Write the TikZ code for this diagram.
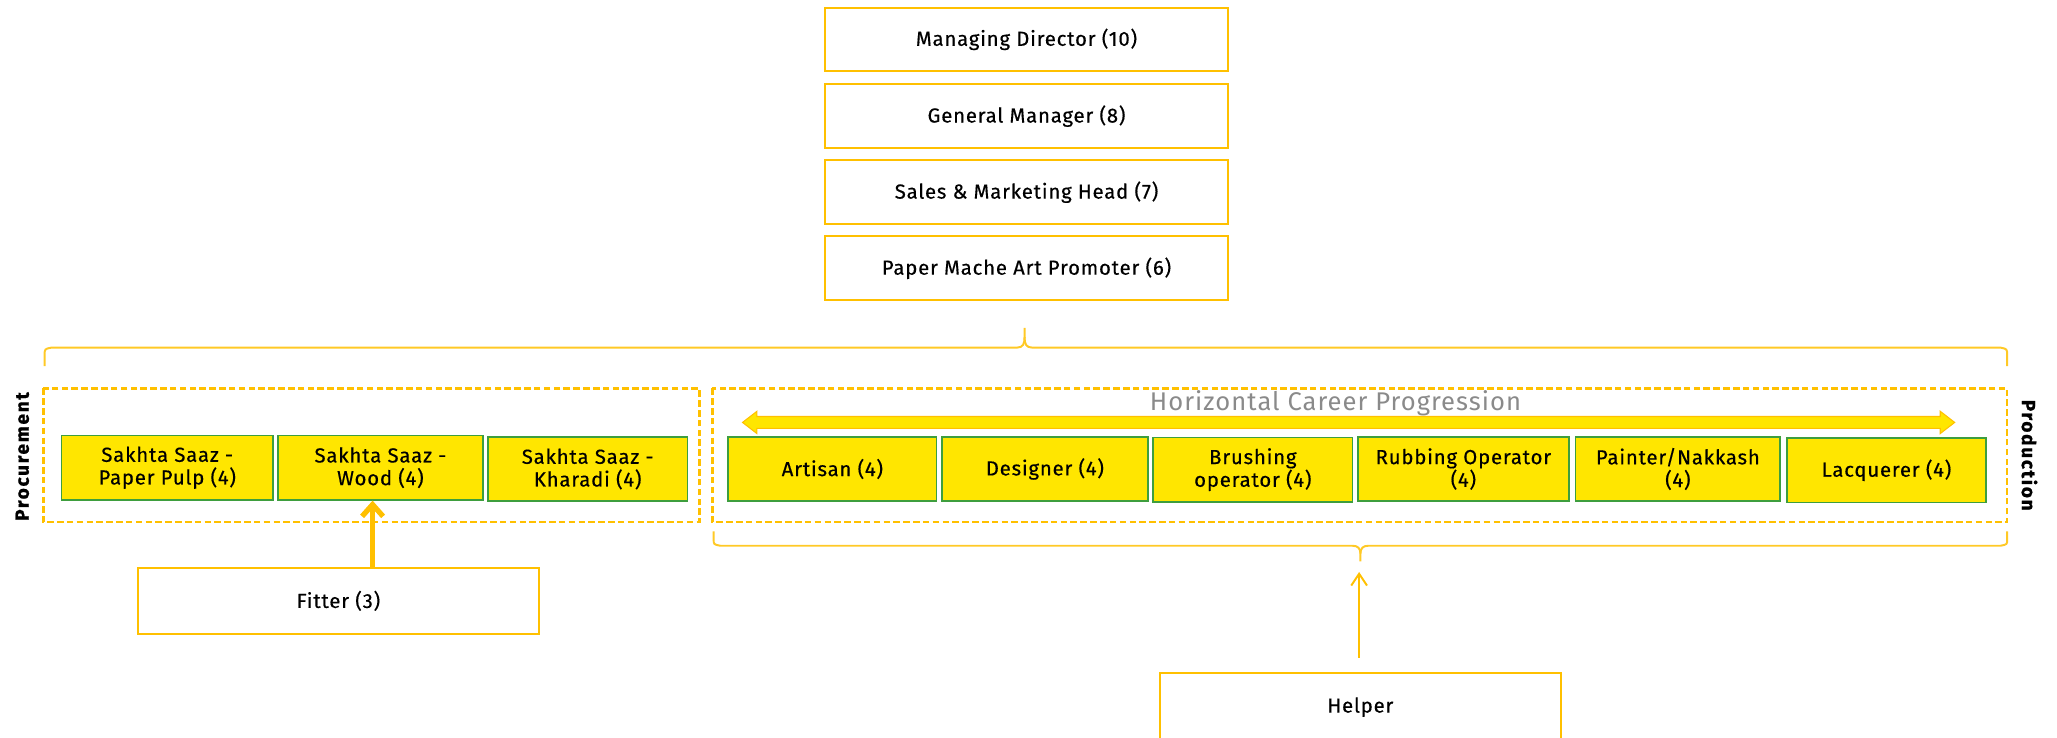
\documentclass[tikz,border=0pt]{standalone}
\usepackage{fontspec}
\setmainfont{Fira Sans}[LetterSpace=4, FakeBold=0.4]
\newfontfamily\sidefont{Fira Sans}[LetterSpace=9, FakeBold=1]
\newfontfamily\hcpfont{Fira Sans}[LetterSpace=4]
\usetikzlibrary{arrows.meta}
\definecolor{ora}{HTML}{FFC000}
\definecolor{yel}{HTML}{FFE600}
\definecolor{grn}{HTML}{3E9E3E}
\definecolor{gry}{HTML}{8A8A8A}
\tikzset{
  topbox/.style={draw=ora, line width=1.5pt, fill=white, minimum width=307pt, minimum height=48.5pt, inner sep=0pt, font=\fontsize{15.5}{17.3}\selectfont},
  ybox/.style={draw=grn, line width=1.2pt, fill=yel, minimum height=49pt, inner sep=0pt, align=center, font=\fontsize{15.5}{17.3}\selectfont},
  dbox/.style={draw=ora, line width=2pt, dash pattern=on 5pt off 2.5pt},
  bracepath/.style={draw=ora!85, line width=1.5pt, line join=round},
  side/.style={font=\fontsize{14.5}{16}\sidefont\bfseries, inner sep=0pt},
}
\begin{document}
\begin{tikzpicture}[x=1pt,y=-1pt]
\path[use as bounding box] (0,0) rectangle (1568,562);
\clip (0,0) rectangle (1568,562);
% top boxes
\node[topbox] (md) at (782.5,30) {Managing Director (10)};
\node[topbox] (gm) at (782.5,88.5) {General Manager (8)};
\node[topbox] (smh) at (782.5,146.5) {Sales \& Marketing Head (7)};
\node[topbox] (pmap) at (782.5,204.5) {Paper Mache Art Promoter (6)};
% top brace
\draw[bracepath] (34,279) -- (34,271) .. controls (34,266) .. (39,265) -- (775,265) .. controls (780,265) and (781,262) .. (781,257) -- (781,250);
\draw[bracepath] (781,257) .. controls (781,262) and (782,265) .. (787,265) -- (1525,265) .. controls (1530,266) .. (1530,271) -- (1530,279);
% dashed group boxes
\draw[dbox] (33,296) rectangle (533,398);
\draw[dbox] (543,296) rectangle (1530,398);
\node[side, rotate=90] (proc) at (17,348) {Procurement};
\node[side, rotate=-90] (prod) at (1547,347) {Production};
\node[font=\fontsize{19.5}{22}\hcpfont, text=gry, inner sep=0pt] (hcp) at (1018,307) {Horizontal Career Progression};
% double block arrow
\draw[draw=ora, line width=0.8pt, fill=yel, line join=miter] (566,322) -- (577,313.5) -- (577,317.5) -- (1479,317.5) -- (1479,313.5) -- (1490,322) -- (1479,330.5) -- (1479,326.5) -- (577,326.5) -- (577,330.5) -- cycle;
% yellow boxes
\node[ybox, minimum width=161pt] (pulp) at (127.5,356.5) {Sakhta Saaz -\\Paper Pulp (4)};
\node[ybox, minimum width=156pt] (wood) at (290,356.5) {Sakhta Saaz -\\Wood (4)};
\node[ybox, minimum width=152pt] (khar) at (448,357.5) {Sakhta Saaz -\\Kharadi (4)};
\node[ybox, minimum width=159pt] (art) at (634.5,357.5) {Artisan (4)};
\node[ybox, minimum width=157pt] (des) at (796.5,357.5) {Designer (4)};
\node[ybox, minimum width=152pt] (brush) at (955,358) {Brushing\\operator (4)};
\node[ybox, minimum width=161pt] (rub) at (1115.5,357.5) {Rubbing Operator\\(4)};
\node[ybox, minimum width=156pt] (paint) at (1279,357.5) {Painter/Nakkash\\(4)};
\node[ybox, minimum width=152pt] (lacq) at (1438,358.5) {Lacquerer (4)};
% bottom brace
\draw[bracepath] (544,405) -- (544,411) .. controls (544,415) .. (549,416) -- (1031,416) .. controls (1035,416) and (1037,418) .. (1037,422) -- (1037,428);
\draw[bracepath] (1037,422) .. controls (1037,418) and (1039,416) .. (1043,416) -- (1525,416) .. controls (1530,415) .. (1530,411) -- (1530,405);
\coordinate (btip) at (1036,436);
% bottom boxes
\node[topbox, minimum width=306pt, minimum height=50pt] (fitter) at (258,458) {Fitter (3)};
\node[topbox, minimum width=306pt, minimum height=52pt] (helper) at (1037,539) {Helper};
% connectors
\draw[draw=ora, line width=4pt, -{Straight Barb[length=9pt,width=16pt]}] ([xshift=26pt]fitter.north) -- ([xshift=-6pt]wood.south);
\draw[draw=ora, line width=1.5pt, -{Straight Barb[length=9pt,width=12pt]}] ([xshift=-1pt,yshift=11pt]helper.north) -- (btip);
\end{tikzpicture}
\end{document}
